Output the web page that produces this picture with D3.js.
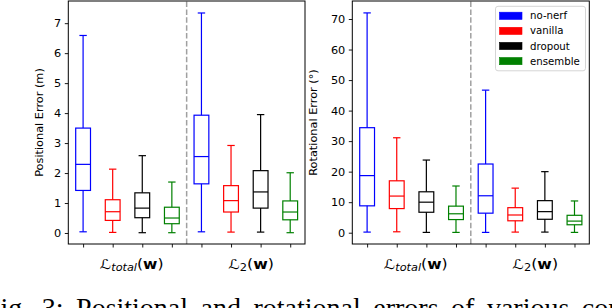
<!DOCTYPE html>
<html>
<head>
<meta charset="utf-8">
<script src="https://cdn.jsdelivr.net/npm/d3@7"></script>
<style>
  html, body { margin: 0; padding: 0; background: #fff; overflow: hidden; }
  svg { display: block; }
</style>
</head>
<body>
<svg id="chart" width="612" height="308"></svg>
<script>
// ---------------- data ----------------
const categories = ["no-nerf", "vanilla", "dropout", "ensemble"];
const colors = ["#0000ff", "#ff0000", "#000000", "#008000"];
const groupLabels = ["total", "2"]; // L_total(w), L_2(w)

// each row: [lowWhisker, Q1, median, Q3, highWhisker]
const posTotal = [[0.04, 1.42, 2.29, 3.50, 6.59], [0.02, 0.42, 0.71, 1.11, 2.13], [0.01, 0.51, 0.83, 1.34, 2.58], [0.01, 0.31, 0.50, 0.86, 1.70]];
const posL2    = [[0.04, 1.64, 2.55, 3.93, 7.34], [0.03, 0.70, 1.08, 1.58, 2.92], [0.03, 0.83, 1.37, 2.08, 3.95], [0.01, 0.44, 0.70, 1.07, 2.01]];
const rotTotal = [[0.2, 8.8, 18.7, 34.4, 72.0], [0.3, 7.9, 12.0, 17.0, 31.1], [0.1, 6.7, 10.0, 13.4, 23.8], [0.1, 4.3, 6.2, 8.7, 15.3]];
const rotL2    = [[0.1, 6.4, 12.1, 22.5, 46.7], [0.2, 3.9, 5.8, 8.2, 14.6], [0.2, 4.4, 6.9, 10.5, 20.0], [0.1, 2.6, 3.8, 5.7, 10.4]];

const posTicks = [0, 1, 2, 3, 4, 5, 6, 7];
const rotTicks = [0, 10, 20, 30, 40, 50, 60, 70];

const panels = [
  { left: 68.3, right: 305, label: "Positional Error (m)", ydom: [-0.367, 7.74], ticks: posTicks, groups: [posTotal, posL2], ylabelX: 39, legend: false },
  { left: 352.3, right: 589.3, label: "Rotational Error (°)", ydom: [-3.70, 75.9], ticks: rotTicks, groups: [rotTotal, rotL2], ylabelX: 313, legend: true }
];

const svg = d3.select("#chart");
const yTop = 1, yBottom = 244;
const font = "DejaVu Sans";

panels.forEach(p => {
  const x = d3.scaleLinear().domain([0.5, 8.5]).range([p.left, p.right]);
  const y = d3.scaleLinear().domain(p.ydom).range([yBottom, yTop]);
  const g = svg.append("g");

  // dashed separator
  g.append("line")
    .attr("x1", x(4.5)).attr("x2", x(4.5))
    .attr("y1", y(p.ydom[0])).attr("y2", y(p.ydom[1]))
    .attr("stroke", "#a0a0a0").attr("stroke-width", 1.5)
    .attr("stroke-dasharray", "5.5,2.4");

  // boxes
  const bw = 0.5, cw = 0.25;
  p.groups.forEach((grp, gi) => {
    grp.forEach((s, ci) => {
      const pos = gi * 4 + ci + 1;
      const c = colors[ci];
      const bg = g.append("g").attr("stroke", c).attr("stroke-width", 1.2).attr("fill", "none");
      bg.append("line").attr("x1", x(pos)).attr("x2", x(pos)).attr("y1", y(s[0])).attr("y2", y(s[1]));
      bg.append("line").attr("x1", x(pos)).attr("x2", x(pos)).attr("y1", y(s[3])).attr("y2", y(s[4]));
      [s[0], s[4]].forEach(v => {
        bg.append("line").attr("x1", x(pos - cw / 2)).attr("x2", x(pos + cw / 2)).attr("y1", y(v)).attr("y2", y(v));
      });
      bg.append("rect")
        .attr("x", x(pos - bw / 2)).attr("width", x(pos + bw / 2) - x(pos - bw / 2))
        .attr("y", y(s[3])).attr("height", y(s[1]) - y(s[3]));
      bg.append("line").attr("x1", x(pos - bw / 2)).attr("x2", x(pos + bw / 2)).attr("y1", y(s[2])).attr("y2", y(s[2]));
    });
  });

  // frame
  g.append("rect")
    .attr("x", p.left).attr("y", yTop)
    .attr("width", p.right - p.left).attr("height", yBottom - yTop)
    .attr("fill", "none").attr("stroke", "#000").attr("stroke-width", 1);

  // y axis
  const yAxis = d3.axisLeft(y).tickValues(p.ticks).tickSize(3.5).tickPadding(3.5).tickFormat(d3.format("d"));
  const ya = g.append("g").attr("transform", `translate(${p.left},0)`).call(yAxis);
  ya.select(".domain").remove();
  ya.selectAll("text").attr("font-family", font).attr("font-size", 11.3).attr("fill", "#000");
  ya.selectAll("line").attr("stroke", "#000").attr("stroke-width", 0.9);

  // x axis ticks (no labels)
  const xAxis = d3.axisBottom(x).tickValues(d3.range(1, 9)).tickSize(3.5).tickFormat("");
  const xa = g.append("g").attr("transform", `translate(0,${yBottom})`).call(xAxis);
  xa.select(".domain").remove();
  xa.selectAll("line").attr("stroke", "#000").attr("stroke-width", 0.9);

  // group labels
  groupLabels.forEach((lab, gi) => {
    const cx = (x(gi * 4 + 1) + x(gi * 4 + 4)) / 2 + (gi === 0 ? 4.3 : 5.3);
    const t = g.append("text")
      .attr("x", cx).attr("y", 268.5)
      .attr("text-anchor", "middle")
      .attr("font-family", font).attr("font-size", 13.5).attr("fill", "#000");
    t.append("tspan").attr("font-style", "italic").text("ℒ");
    t.append("tspan").attr("font-style", lab === "total" ? "italic" : "normal").attr("font-size", 9.8).attr("dy", 2.5).text(lab);
    t.append("tspan").attr("dy", -2.5).text("(");
    t.append("tspan").attr("font-weight", "bold").text("w");
    t.append("tspan").text(")");
    t.attr("textLength", lab === "total" ? 63.5 : 45.5).attr("lengthAdjust", "spacingAndGlyphs");
  });

  // y label
  g.append("text")
    .attr("transform", `translate(${p.ylabelX},${(yTop + yBottom) / 2}) rotate(-90)`)
    .attr("text-anchor", "middle").attr("dominant-baseline", "central")
    .attr("font-family", font).attr("font-size", 11.3).attr("fill", "#000")
    .text(p.label);

  // legend
  if (p.legend) {
    const lg = svg.append("g");
    lg.append("rect").attr("x", 495.5).attr("y", 6.3).attr("width", 90).attr("height", 64.5)
      .attr("rx", 2.5).attr("fill", "#fff").attr("fill-opacity", 0.8)
      .attr("stroke", "#d0d0d0").attr("stroke-width", 0.9);
    categories.forEach((cat, i) => {
      const cy = 15.8 + i * 15.1;
      lg.append("rect").attr("x", 499.5).attr("y", cy - 3.6).attr("width", 22.5).attr("height", 7.2)
        .attr("fill", colors[i]).attr("stroke", colors[i]).attr("stroke-width", 0.6);
      lg.append("text").attr("x", 530).attr("y", cy).attr("dominant-baseline", "central")
        .attr("font-family", font).attr("font-size", 10.2).attr("fill", "#000").text(cat);
    });
  }
});

// caption (cut off at the bottom edge, as in the reference)
const cap = svg.append("text")
  .attr("y", 316.5)
  .attr("font-family", "Liberation Serif").attr("font-size", 28).attr("fill", "#000")
  .attr("word-spacing", 5.5)
  .text("Fig. 3: Positional and rotational errors of various configurations.");
const tmpF = svg.append("text").attr("font-family", "Liberation Serif").attr("font-size", 28).text("F");
const fw = tmpF.node().getComputedTextLength();
tmpF.remove();
cap.attr("x", -fw + 0.5);
</script>
</body>
</html>
